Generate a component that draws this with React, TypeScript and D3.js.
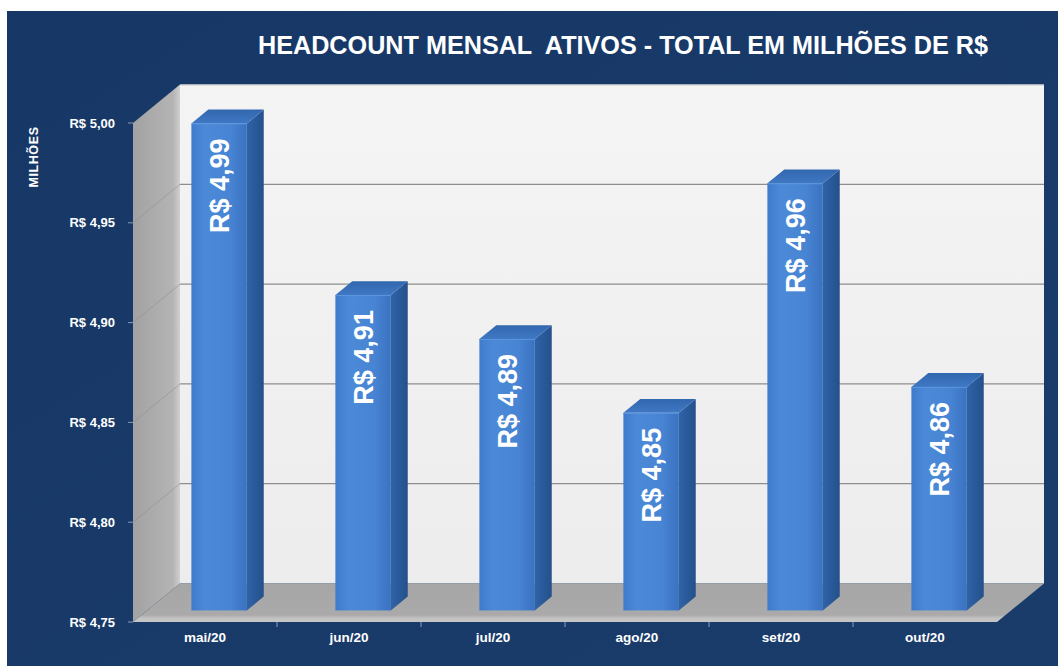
import React from 'react';
import * as d3 from 'd3';

const categories = ['mai/20', 'jun/20', 'jul/20', 'ago/20', 'set/20', 'out/20'];
const values = [4.994, 4.908, 4.886, 4.849, 4.964, 4.862];
const yTicks = [4.75, 4.8, 4.85, 4.9, 4.95, 5.0];
const title = 'HEADCOUNT MENSAL  ATIVOS - TOTAL EM MILHÕES DE R$';
const axisTitle = 'MILHÕES';

const FONT = '"Liberation Sans", Arial, sans-serif';

export default function App() {
  const W = 1058, H = 666;
  const left = 133, right = 997, bottom = 622, top = 123;
  const DX = 47, DY = 38.5;
  const y = d3.scaleLinear().domain([4.75, 5.0]).range([bottom, top]);
  const x = d3.scaleBand<string>().domain(categories).range([left, right]).padding(0);
  const barFrac = 0.385;
  const d0 = 0.3, d1 = 0.66;
  const loc = d3.formatLocale({ decimal: ',', thousands: '.', grouping: [3], currency: ['R$ ', ''] });
  const fmt = loc.format('$.2f');
  const pts = (arr: number[][]) => arr.map((p) => p.join(',')).join(' ');
  const yMin = y.domain()[0], yMax = y.domain()[1];

  return (
    <svg width={W} height={H} style={{ position: 'absolute', left: 0, top: 0, display: 'block' }}>
      <defs>
        <linearGradient id="panel" x1="0" y1="0" x2="1" y2="1">
          <stop offset="0" stopColor="#173867" />
          <stop offset="1" stopColor="#1a3c6b" />
        </linearGradient>
        <linearGradient id="wall" x1="0" y1="0" x2="0" y2="1">
          <stop offset="0" stopColor="#f4f4f4" />
          <stop offset="1" stopColor="#ededed" />
        </linearGradient>
        <linearGradient id="side" x1="0" y1="0" x2="1" y2="0">
          <stop offset="0" stopColor="#a2a2a2" />
          <stop offset="0.85" stopColor="#b4b4b4" />
          <stop offset="1" stopColor="#d0d0d0" />
        </linearGradient>
        <linearGradient id="floor" x1="0" y1="0" x2="0" y2="1">
          <stop offset="0" stopColor="#a6a6a6" />
          <stop offset="0.82" stopColor="#aaaaaa" />
          <stop offset="0.9" stopColor="#c2c2c2" />
          <stop offset="1" stopColor="#c6c6c6" />
        </linearGradient>
        <linearGradient id="barFront" x1="0" y1="0" x2="1" y2="0">
          <stop offset="0" stopColor="#3f7bcc" />
          <stop offset="0.25" stopColor="#4c8ad8" />
          <stop offset="0.7" stopColor="#4784d3" />
          <stop offset="1" stopColor="#3a72c0" />
        </linearGradient>
        <linearGradient id="barSide" x1="0" y1="0" x2="1" y2="0">
          <stop offset="0" stopColor="#2f63a8" />
          <stop offset="1" stopColor="#25508c" />
        </linearGradient>
        <linearGradient id="barTop" x1="0" y1="1" x2="0" y2="0">
          <stop offset="0" stopColor="#3f78c4" />
          <stop offset="1" stopColor="#3267ae" />
        </linearGradient>
      </defs>

      <rect x={7} y={11} width={W - 7} height={H - 11} fill="url(#panel)" />

      {/* back wall */}
      <rect x={left + DX} y={top - DY} width={right - left} height={bottom - top} fill="url(#wall)" />
      {/* side wall */}
      <polygon
        points={pts([[left, top], [left + DX, top - DY], [left + DX, bottom - DY], [left, bottom]])}
        fill="url(#side)"
      />
      {/* floor */}
      <polygon
        points={pts([[left, bottom], [left + DX, bottom - DY], [right + DX, bottom - DY], [right, bottom]])}
        fill="url(#floor)"
      />

      {/* gridlines */}
      {yTicks.filter((t) => t > yMin && t < yMax).map((t) => (
        <g key={'g' + t}>
          <line x1={left + DX} x2={right + DX} y1={y(t) - DY} y2={y(t) - DY} stroke="#8e8e8e" strokeWidth={1.2} />
          <line x1={left} x2={left + DX} y1={y(t)} y2={y(t) - DY} stroke="#8a8a8a" strokeWidth={0.8} opacity={0.6} />
        </g>
      ))}
      <line x1={left + DX} x2={right + DX} y1={top - DY + 0.5} y2={top - DY + 0.5} stroke="#c8c8c8" strokeWidth={1} />

      {/* y axis ticks & labels */}
      {yTicks.map((t) => (
        <g key={'t' + t}>
          <line x1={left - 5} x2={left} y1={y(t)} y2={y(t)} stroke="#8a9ab5" strokeWidth={1} />
          <text
            x={left - 18}
            y={y(t)}
            dy="0.35em"
            textAnchor="end"
            fill="#ffffff"
            fontFamily={FONT}
            fontWeight="bold"
            fontSize={13}
          >
            {fmt(t)}
          </text>
        </g>
      ))}

      {/* category ticks & labels */}
      {categories.map((c, i) => (
        <g key={'c' + c}>
          {i > 0 && (
            <line x1={x(c)!} x2={x(c)!} y1={bottom} y2={bottom + 5} stroke="#8a9ab5" strokeWidth={1} />
          )}
          <text
            x={x(c)! + x.bandwidth() / 2}
            y={bottom + 20}
            textAnchor="middle"
            fill="#ffffff"
            fontFamily={FONT}
            fontWeight="bold"
            fontSize={13.5}
          >
            {c}
          </text>
        </g>
      ))}

      {/* bars */}
      {categories.map((c, i) => {
        const v = values[i];
        const bw = x.bandwidth() * barFrac;
        const x0 = x(c)! + (x.bandwidth() - bw) / 2 + DX * d0;
        const x1 = x0 + bw;
        const yb = y(yMin) - DY * d0;
        const yt = y(v) - DY * d0;
        const sx = DX * (d1 - d0), sy = DY * (d1 - d0);
        const cx = (x0 + x1) / 2;
        return (
          <g key={'b' + c}>
            <polygon points={pts([[x1, yt], [x1 + sx, yt - sy], [x1 + sx, yb - sy], [x1, yb]])} fill="url(#barSide)" />
            <polygon points={pts([[x0, yt], [x0 + sx, yt - sy], [x1 + sx, yt - sy], [x1, yt]])} fill="url(#barTop)" />
            <rect x={x0} y={yt} width={bw} height={yb - yt} fill="url(#barFront)" />
            <line x1={x0} x2={x1} y1={yt + 0.5} y2={yt + 0.5} stroke="#5b95dd" strokeWidth={1} />
            <text
              transform={`translate(${cx},${yt + 15}) rotate(-90)`}
              textAnchor="end"
              dy="0.36em"
              fill="#ffffff"
              fontFamily={FONT}
              fontWeight="bold"
              fontSize={27}
            >
              {fmt(v)}
            </text>
          </g>
        );
      })}

      {/* title */}
      <text
        x={258}
        y={54}
        textAnchor="start"
        textLength={730}
        lengthAdjust="spacingAndGlyphs"
        fill="#ffffff"
        fontFamily={FONT}
        fontWeight="bold"
        fontSize={25}
        style={{ whiteSpace: 'pre' }}
      >
        {title}
      </text>

      {/* axis title */}
      <text
        transform={`translate(34,157) rotate(-90)`}
        textAnchor="middle"
        dy="0.35em"
        fill="#ffffff"
        fontFamily={FONT}
        fontWeight="bold"
        fontSize={12.5}
        letterSpacing={0.6}
      >
        {axisTitle}
      </text>
    </svg>
  );
}
